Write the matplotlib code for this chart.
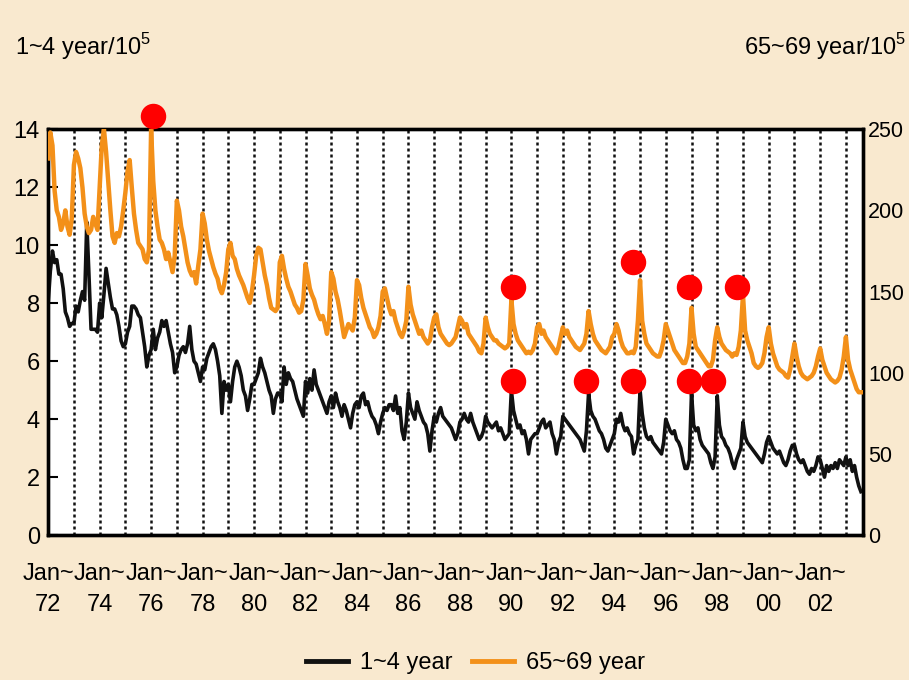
import numpy as np
import matplotlib
matplotlib.use('Agg')
from matplotlib import pyplot as plt
from matplotlib.lines import Line2D

# monthly rates, Jan 1972 - Aug 2003
age1_4 = [
    8.0, 9.1, 9.8, 9.4, 9.5, 9.0, 9.0, 8.5, 7.7, 7.5, 7.2, 7.3,   # 72
    7.3, 7.9, 7.7, 8.1, 8.4, 8.1, 10.8, 9.0, 7.1, 7.1, 7.1, 7.0,  # 73
    8.0, 7.5, 8.3, 9.2, 8.7, 8.2, 7.8, 7.8, 7.6, 7.2, 6.7, 6.5,   # 74
    6.6, 7.0, 7.2, 7.9, 7.9, 7.8, 7.6, 7.5, 7.0, 6.5, 5.8, 6.2,   # 75
    6.4, 7.1, 6.4, 6.8, 7.0, 7.4, 7.2, 7.4, 7.0, 6.6, 6.3, 5.6,   # 76
    5.8, 6.2, 6.4, 6.5, 6.3, 6.6, 7.2, 6.4, 6.0, 5.9, 5.6, 5.3,   # 77
    5.8, 5.7, 6.1, 6.3, 6.5, 6.6, 6.4, 6.0, 5.5, 4.2, 5.3, 5.0,   # 78
    5.2, 4.6, 5.3, 5.8, 6.0, 5.8, 5.5, 5.0, 4.8, 4.3, 4.7, 5.2,   # 79
    5.2, 5.4, 5.6, 6.1, 5.8, 5.6, 5.3, 5.0, 4.8, 4.2, 4.7, 4.9,   # 80
    4.9, 4.6, 5.8, 5.2, 5.6, 5.4, 5.3, 5.0, 4.7, 4.5, 4.3, 4.1,   # 81
    5.3, 4.9, 5.4, 5.0, 5.7, 5.2, 5.0, 4.8, 4.6, 4.4, 4.2, 4.6,   # 82
    4.8, 4.4, 4.9, 4.6, 4.4, 4.1, 4.5, 4.3, 4.0, 3.7, 4.2, 4.5,   # 83
    4.6, 4.4, 4.8, 4.9, 4.5, 4.6, 4.3, 4.1, 4.0, 3.8, 3.5, 3.9,   # 84
    4.2, 4.4, 4.3, 4.5, 4.5, 4.3, 4.8, 4.2, 4.4, 3.6, 3.3, 3.9,   # 85
    4.9, 4.4, 4.2, 4.0, 4.6, 4.3, 4.1, 3.9, 3.8, 3.5, 2.9, 3.6,   # 86
    4.1, 3.9, 4.2, 4.4, 4.1, 4.0, 3.9, 3.8, 3.7, 3.5, 3.3, 3.5,   # 87
    3.9, 4.0, 4.2, 4.0, 3.9, 4.2, 3.9, 3.7, 3.5, 3.3, 3.4, 3.6,   # 88
    4.1, 3.9, 3.8, 3.7, 3.8, 3.9, 3.6, 3.7, 3.5, 3.3, 3.4, 3.5,   # 89
    5.0, 4.3, 4.0, 3.7, 3.8, 3.5, 3.6, 3.3, 2.8, 3.3, 3.4, 3.5,   # 90
    3.5, 3.7, 3.9, 4.0, 3.7, 3.8, 3.9, 3.5, 3.3, 2.8, 3.2, 3.4,   # 91
    4.1, 4.0, 3.9, 3.8, 3.7, 3.6, 3.5, 3.4, 3.3, 3.1, 2.9, 3.6,   # 92
    4.9, 4.3, 4.1, 4.0, 3.8, 3.6, 3.5, 3.3, 3.0, 2.9, 3.1, 3.3,   # 93
    3.5, 4.0, 3.9, 4.2, 3.8, 3.6, 3.7, 3.5, 3.4, 2.8, 3.1, 3.3,   # 94
    5.0, 4.2, 3.7, 3.4, 3.3, 3.4, 3.2, 3.1, 3.0, 2.9, 2.8, 3.2,   # 95
    4.0, 3.8, 3.6, 3.5, 3.6, 3.3, 3.2, 3.0, 2.6, 2.3, 2.3, 2.6,   # 96
    4.9, 3.8, 3.6, 3.7, 3.3, 3.1, 3.0, 2.9, 2.8, 2.5, 2.3, 2.7,   # 97
    4.8, 3.8, 3.4, 3.3, 3.1, 3.0, 2.8, 2.5, 2.3, 2.6, 2.8, 3.0,   # 98
    3.9, 3.4, 3.2, 3.1, 3.0, 2.9, 2.8, 2.7, 2.6, 2.5, 2.8, 3.2,   # 99
    3.4, 3.2, 3.0, 2.9, 2.8, 2.9, 2.7, 2.5, 2.4, 2.6, 2.9, 3.1,   # 00
    3.1, 2.8, 2.6, 2.5, 2.6, 2.4, 2.2, 2.1, 2.3, 2.2, 2.4, 2.7,   # 01
    2.6, 2.3, 2.0, 2.4, 2.2, 2.4, 2.3, 2.5, 2.3, 2.6, 2.5, 2.4,   # 02
    2.7, 2.4, 2.6, 2.2, 2.4, 2.0, 1.7, 1.5,                       # 03
]

age65_69 = [
    232, 248, 240, 212, 200, 196, 188, 192, 200, 190, 185, 195,   # 72
    228, 236, 232, 226, 214, 198, 190, 186, 188, 196, 192, 188,   # 73
    214, 240, 250, 236, 218, 200, 184, 180, 186, 184, 190, 200,   # 74
    211, 224, 231, 214, 198, 188, 180, 178, 176, 170, 168, 176,   # 75
    250, 218, 200, 190, 182, 180, 176, 170, 174, 168, 162, 172,   # 76
    206, 200, 190, 184, 176, 168, 163, 160, 162, 155, 166, 176,   # 77
    198, 192, 182, 175, 170, 165, 161, 158, 152, 149, 154, 162,   # 78
    176, 180, 172, 170, 164, 160, 157, 154, 150, 146, 143, 150,   # 79
    160, 172, 177, 176, 168, 160, 154, 146, 140, 139, 138, 140,   # 80
    168, 172, 164, 158, 153, 150, 146, 142, 140, 137, 138, 145,   # 81
    167, 160, 152, 148, 145, 140, 136, 133, 135, 130, 124, 132,   # 82
    162, 158, 150, 145, 138, 130, 122, 126, 130, 128, 126, 134,   # 83
    157, 154, 146, 140, 136, 132, 128, 126, 122, 124, 128, 135,   # 84
    150, 152, 146, 140, 136, 138, 132, 128, 124, 122, 126, 132,   # 85
    153, 142, 136, 132, 128, 124, 126, 122, 120, 118, 120, 128,   # 86
    134, 136, 128, 124, 122, 120, 118, 117, 118, 120, 122, 128,   # 87
    134, 132, 128, 130, 124, 122, 120, 118, 116, 113, 112, 118,   # 88
    134, 128, 124, 122, 120, 120, 118, 117, 116, 115, 116, 118,   # 89
    145, 130, 124, 120, 118, 116, 114, 112, 113, 112, 114, 118,   # 90
    128, 130, 124, 126, 122, 120, 118, 116, 114, 112, 116, 122,   # 91
    128, 124, 126, 122, 120, 118, 116, 115, 114, 116, 118, 124,   # 92
    138, 130, 124, 120, 118, 116, 114, 113, 112, 114, 116, 122,   # 93
    124, 130, 126, 120, 116, 114, 112, 112, 113, 112, 116, 132,   # 94
    157, 132, 124, 118, 116, 114, 112, 111, 110, 110, 114, 120,   # 95
    130, 126, 122, 118, 114, 112, 110, 108, 106, 106, 110, 118,   # 96
    140, 124, 116, 114, 112, 110, 108, 106, 104, 104, 108, 120,   # 97
    128, 122, 118, 116, 114, 113, 112, 110, 112, 111, 116, 126,   # 98
    148, 126, 120, 116, 112, 106, 104, 103, 104, 106, 112, 122,   # 99
    128, 118, 112, 108, 104, 102, 101, 100, 98, 97, 102, 110,     # 00
    118, 110, 104, 100, 98, 97, 96, 97, 98, 100, 104, 110,        # 01
    115, 108, 104, 100, 98, 96, 95, 94, 95, 97, 102, 110,         # 02
    122, 108, 102, 98, 94, 90, 88, 88,                            # 03
]

label_years = [1972, 1974, 1976, 1978, 1980, 1982, 1984, 1986,
               1988, 1990, 1992, 1994, 1996, 1998, 2000, 2002]
label_text = ['72', '74', '76', '78', '80', '82', '84', '86',
              '88', '90', '92', '94', '96', '98', '00', '02']

# red markers put on the scan
dots_top_x = [1976.08, 1990.06, 1994.72, 1996.89, 1998.76]
dots_top_y = [258, 153, 168, 153, 153]          # right axis units
dots_low_x = [1990.06, 1992.89, 1994.72, 1996.89, 1997.83]
dots_low_y = [5.3, 5.3, 5.3, 5.3, 5.3]         # left axis units

fam = ['Liberation Sans', 'DejaVu Sans']
fs = 17
plt.rcParams['font.family'] = fam
plt.rcParams['mathtext.fontset'] = 'custom'
plt.rcParams['mathtext.rm'] = 'Liberation Sans'

bg = '#f9e9cf'
black = '#111111'
orange = '#f39019'

t1 = 1972 + np.arange(len(age1_4)) / 12
t2 = 1972 + np.arange(len(age65_69)) / 12

fig = plt.figure(figsize=(9.09, 6.8), dpi=100, facecolor=bg)
ax = fig.add_axes([0.053, 0.213, 0.896, 0.597])
ax.set_facecolor('white')

for yr in range(1973, 2004):
    ax.axvline(yr, color=black, lw=1.8, ls=(0, (1.2, 1.2)), zorder=1)

ax.plot(t1, age1_4, color=black, lw=2.6, zorder=3)
ax.set_xlim(1972, 2003.65)
ax.set_ylim(0, 14)
ax.set_yticks(range(0, 15, 2))
ax.tick_params(axis='y', direction='in', left=True, right=True,
               length=7, width=1.5, labelsize=fs, pad=6)
ax.set_xticks(label_years)
ax.set_xticklabels(['Jan~\n' + s for s in label_text], fontsize=fs,
                   linespacing=1.55)
ax.tick_params(axis='x', length=0, pad=20)
for s in ax.spines.values():
    s.set_linewidth(2.4)

ax2 = ax.twinx()
ax2.plot(t2, age65_69, color=orange, lw=3.2, zorder=3)
ax2.set_ylim(0, 250)
ax2.set_yticks(range(0, 251, 50))
ax2.tick_params(axis='y', length=0, labelsize=15.5, pad=4)
for s in ax2.spines.values():
    s.set_linewidth(2.4)

ax2.scatter(dots_top_x, dots_top_y, s=300, color='red', zorder=10, clip_on=False)
ax.scatter(dots_low_x, dots_low_y, s=300, color='red', zorder=10, clip_on=False)

fig.text(0.016, 0.932, '1~4 year/10$^5$', fontsize=fs, ha='left', va='center')
fig.text(0.997, 0.932, '65~69 year/10$^5$', fontsize=fs, ha='right', va='center')

h = [Line2D([], [], color=black, lw=3.5), Line2D([], [], color=orange, lw=3.5)]
fig.legend(h, ['1~4 year', '65~69 year'], loc='center', bbox_to_anchor=(0.523, 0.025),
           ncol=2, frameon=False, fontsize=fs, handlelength=1.8,
           handletextpad=0.5, columnspacing=0.8)

fig.savefig('out.png', dpi=100, facecolor=bg)
